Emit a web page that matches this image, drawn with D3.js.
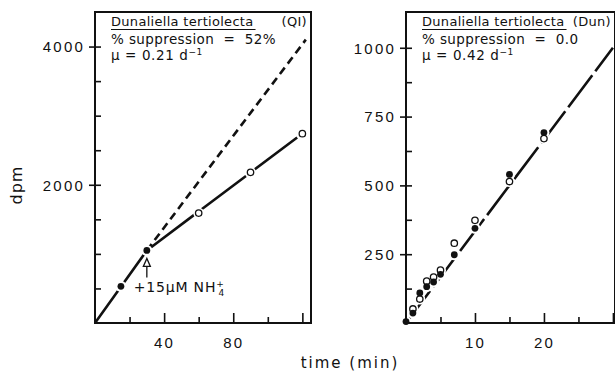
<!DOCTYPE html>
<html>
<head>
<meta charset="utf-8">
<script src="https://cdn.jsdelivr.net/npm/d3@7"></script>
<style>
  body { margin: 0; background: #fff; }
  svg { display: block; font-family: "DejaVu Sans", sans-serif; }
  text { fill: #111; }
</style>
</head>
<body>
<div id="chart"></div>
<script>
// Panel (QI): ammonium added at 30 min
const qiFilledTime = [15, 30];
const qiFilledDpm = [530, 1050];
const qiOpenTime = [60, 90, 120];
const qiOpenDpm = [1590, 2180, 2740];
const qiInitialLineTime = [0, 30];
const qiInitialLineDpm = [0, 1050];
const qiTreatedLineTime = [30, 120];
const qiTreatedLineDpm = [1050, 2740];
const qiControlLineTime = [30, 122];
const qiControlLineDpm = [1050, 4100];
const qiYMajor = [2000, 4000];
const qiYMinor = [500, 1000, 1500, 2500, 3000, 3500];
const qiXMajor = [40, 80, 120];
const qiXLabels = [40, 80];
const qiXMinor = [20, 60, 100];

// Panel (Dun)
const dunFilledTime = [0, 1, 2, 3, 4, 5, 7, 10, 15, 20];
const dunFilledDpm = [5, 36, 109, 132, 149, 177, 248, 344, 540, 692];
const dunOpenTime = [1, 2, 3, 4, 5, 7, 10, 15, 20];
const dunOpenDpm = [51, 87, 152, 167, 192, 290, 373, 514, 670];
const dunLineTime = [0, 30];
const dunLineDpm = [0, 1000];
const dunYMajor = [250, 500, 750, 1000];
const dunYMinor = [125, 375, 625, 875];
const dunXMajor = [10, 20, 30];
const dunXLabels = [10, 20];
const dunXMinor = [5, 15, 25];

const svg = d3.select("#chart").append("svg")
  .attr("width", 615)
  .attr("height", 377);

const zip = (xs, ys) => xs.map((x, i) => [x, ys[i]]);

function drawPanel(p) {
  const x = d3.scaleLinear().domain(p.xDomain).range(p.xRange);
  const y = d3.scaleLinear().domain(p.yDomain).range(p.yRange);
  const g = svg.append("g");
  const line = d3.line().x(d => x(d[0])).y(d => y(d[1]));

  // fitted lines
  p.lines.forEach(l => {
    g.append("path")
      .attr("d", line(zip(l.t, l.v)))
      .attr("fill", "none")
      .attr("stroke", "#111")
      .attr("stroke-width", 2.6)
      .attr("stroke-dasharray", l.dash);
  });

  // white halos so lines break around the points
  const pts = zip(p.filledT, p.filledV).concat(zip(p.openT, p.openV));
  g.selectAll(".halo").data(pts).join("circle")
    .attr("cx", d => x(d[0])).attr("cy", d => y(d[1]))
    .attr("r", 5.5).attr("fill", "#fff");

  g.selectAll(".open").data(zip(p.openT, p.openV)).join("circle")
    .attr("cx", d => x(d[0])).attr("cy", d => y(d[1]))
    .attr("r", 3.2).attr("fill", "#fff")
    .attr("stroke", "#111").attr("stroke-width", 1.3);

  g.selectAll(".filled").data(zip(p.filledT, p.filledV)).join("circle")
    .attr("cx", d => x(d[0])).attr("cy", d => y(d[1]))
    .attr("r", 3.4).attr("fill", "#111");

  // frame
  const [x0, x1] = p.xRange;
  const [y0, y1] = p.yRange;
  g.append("rect")
    .attr("x", x0).attr("y", y1)
    .attr("width", x1 - x0).attr("height", y0 - y1)
    .attr("fill", "none").attr("stroke", "#111").attr("stroke-width", 2);

  // y axis: majors cross the frame, minors point inward
  const yOut = g.append("g").attr("transform", `translate(${x0},0)`)
    .call(d3.axisLeft(y).tickValues(p.yMajor).tickSize(6).tickPadding(4)
      .tickFormat(d3.format("d")));
  g.append("g").attr("transform", `translate(${x0},0)`)
    .call(d3.axisLeft(y).tickValues(p.yMajor).tickSize(-6).tickFormat(""));
  g.append("g").attr("transform", `translate(${x0},0)`)
    .call(d3.axisLeft(y).tickValues(p.yMinor).tickSize(-6).tickFormat(""));

  // x axis: ticks inward
  const xAx = g.append("g").attr("transform", `translate(0,${y0})`)
    .call(d3.axisBottom(x).tickValues(p.xMajor).tickSize(-10)
      .tickFormat(d => p.xLabels.includes(d) ? d : "").tickPadding(8));
  g.append("g").attr("transform", `translate(0,${y0})`)
    .call(d3.axisBottom(x).tickValues(p.xMinor).tickSize(-6).tickFormat(""));

  g.selectAll(".domain").remove();
  g.selectAll(".tick line").attr("stroke", "#111").attr("stroke-width", 1.6);
  yOut.selectAll("text")
    .style("font-size", "15px").style("letter-spacing", "2.2px")
    .attr("fill", "#111").attr("dy", "0.36em");
  xAx.selectAll(".tick text")
    .style("font-size", "15px").style("letter-spacing", "2.2px")
    .attr("fill", "#111").attr("y", 14).attr("dy", "0.71em");

  // header text
  const tx = x0 + 16;
  const title = g.append("text").attr("x", tx).attr("y", y1 + 14)
    .style("font-size", "13px").style("letter-spacing", "0.3px")
    .text("Dunaliella tertiolecta");
  const tw = title.node().getComputedTextLength();
  g.append("line")
    .attr("x1", tx).attr("x2", tx + tw + 2)
    .attr("y1", y1 + 17.5).attr("y2", y1 + 17.5)
    .attr("stroke", "#111").attr("stroke-width", 1.2);
  g.append("text").attr("x", x1 - 4).attr("y", y1 + 14)
    .attr("text-anchor", "end")
    .style("font-size", "13px").style("letter-spacing", "0.3px")
    .text(p.strain);
  g.append("text").attr("x", tx).attr("y", y1 + 32)
    .style("font-size", "13.5px").style("letter-spacing", "0.4px")
    .style("white-space", "pre")
    .text(p.suppression);
  const mu = g.append("text").attr("x", tx).attr("y", y1 + 48)
    .style("font-size", "13.5px").style("letter-spacing", "0.6px")
    .style("white-space", "pre");
  mu.append("tspan").text(p.mu);
  mu.append("tspan").attr("dy", -5).style("font-size", "9px").text("−1");

  return { x, y, g };
}

const qi = drawPanel({
  xDomain: [0, 125], xRange: [95, 311],
  yDomain: [0, 4500], yRange: [323, 12],
  filledT: qiFilledTime, filledV: qiFilledDpm,
  openT: qiOpenTime, openV: qiOpenDpm,
  lines: [
    { t: qiControlLineTime, v: qiControlLineDpm, dash: "8,5" },
    { t: qiInitialLineTime, v: qiInitialLineDpm, dash: "40,4" },
    { t: qiTreatedLineTime, v: qiTreatedLineDpm, dash: "60,4" }
  ],
  yMajor: qiYMajor, yMinor: qiYMinor,
  xMajor: qiXMajor, xLabels: qiXLabels, xMinor: qiXMinor,
  strain: "(QI)",
  suppression: "% suppression  =  52%",
  mu: "μ = 0.21 d"
});

drawPanel({
  xDomain: [0, 30.3], xRange: [406, 615],
  yDomain: [0, 1130], yRange: [323, 12],
  filledT: dunFilledTime, filledV: dunFilledDpm,
  openT: dunOpenTime, openV: dunOpenDpm,
  lines: [
    { t: dunLineTime, v: dunLineDpm, dash: "40,5" }
  ],
  yMajor: dunYMajor, yMinor: dunYMinor,
  xMajor: dunXMajor, xLabels: dunXLabels, xMinor: dunXMinor,
  strain: "(Dun)",
  suppression: "% suppression  =  0.0",
  mu: "μ = 0.42 d"
});

// ammonium addition arrow (QI panel)
const ax = qi.x(qiFilledTime[1]);
const ay = qi.y(qiFilledDpm[1]);
qi.g.append("path")
  .attr("d", `M${ax},${ay + 8} L${ax - 3.5},${ay + 16} L${ax + 3.5},${ay + 16} Z`)
  .attr("fill", "#fff").attr("stroke", "#111").attr("stroke-width", 1.3);
qi.g.append("line")
  .attr("x1", ax).attr("x2", ax).attr("y1", ay + 16).attr("y2", ay + 27)
  .attr("stroke", "#111").attr("stroke-width", 1.3);
const nh = qi.g.append("text").attr("x", ax - 13).attr("y", ay + 42)
  .style("font-size", "14px").style("letter-spacing", "0.8px");
nh.append("tspan").text("+15μM NH");
nh.append("tspan").attr("dy", -5).style("font-size", "9px").text("+");
nh.append("tspan").attr("dx", -6).attr("dy", 9).style("font-size", "9px").text("4");

// shared axis titles
svg.append("text")
  .attr("transform", "translate(22,185) rotate(-90)")
  .attr("text-anchor", "middle")
  .style("font-size", "16px").style("letter-spacing", "1px")
  .text("dpm");
svg.append("text")
  .attr("x", 350).attr("y", 368)
  .attr("text-anchor", "middle")
  .style("font-size", "15px").style("letter-spacing", "2px")
  .text("time (min)");
</script>
</body>
</html>
